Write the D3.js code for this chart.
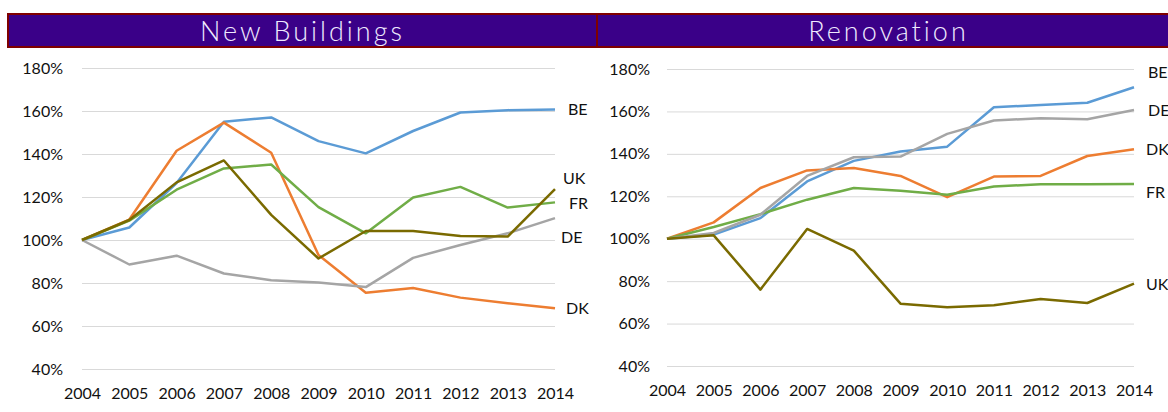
<!DOCTYPE html>
<html>
<head>
<meta charset="utf-8">
<script src="https://cdn.jsdelivr.net/npm/d3@7"></script>
<style>
  body { margin: 0; background: #fff; }
  svg { display: block; font-family: Lato, "Liberation Sans", sans-serif; }
</style>
</head>
<body>
<svg id="chart" width="1168" height="412"></svg>
<script>
const years = [2004, 2005, 2006, 2007, 2008, 2009, 2010, 2011, 2012, 2013, 2014];
const yTicks = [40, 60, 80, 100, 120, 140, 160, 180];
const countries = ["BE", "DK", "FR", "DE", "UK"];

// index 2004 = 100%
const newBE = [100, 105.8, 126.5, 155, 157, 146, 140.3, 150.7, 159.3, 160.4, 160.7];
const newDK = [100, 109.5, 141.5, 154.6, 140.6, 93, 75.5, 77.7, 73.2, 70.6, 68.3];
const newFR = [100, 109, 123.4, 133.3, 135.1, 115.3, 103.1, 119.8, 124.7, 115.1, 117.5];
const newDE = [100, 88.6, 92.7, 84.4, 81.3, 80.2, 78.1, 91.7, 97.7, 103.1, 110.2];
const newUK = [100, 109.3, 126.8, 137, 111.7, 91.4, 104.2, 104.2, 101.9, 101.6, 123.7];

const renoBE = [100, 101.9, 109.7, 127, 136.7, 141.1, 143.4, 162, 163, 164.1, 171.4];
const renoDK = [100, 107.7, 123.9, 132.2, 133.3, 129.6, 119.6, 129.3, 129.6, 139, 142.2];
const renoFR = [100, 105.5, 111.6, 118.4, 123.9, 122.6, 120.7, 124.6, 125.7, 125.7, 125.8];
const renoDE = [100, 102.7, 111.3, 129.6, 138.4, 138.7, 149.4, 155.7, 156.8, 156.3, 160.7];
const renoUK = [100, 101.6, 76, 104.6, 94.4, 69.4, 67.7, 68.6, 71.6, 69.7, 78.8];

const colors = { BE: "#5b9bd5", DK: "#ed7d31", FR: "#70ad47", DE: "#a5a5a5", UK: "#7a6a00" };

const panels = [
  {
    title: "New Buildings",
    series: { BE: newBE, DK: newDK, FR: newFR, DE: newDE, UK: newUK },
    head: [8, 597], x: [82, 555], y: [369, 68], tickX: 63,
    nudge: { BE: [13, 0], DK: [11, 0], FR: [14, 1], DE: [6, 19], UK: [8, -11] }
  },
  {
    title: "Renovation",
    series: { BE: renoBE, DK: renoDK, FR: renoFR, DE: renoDE, UK: renoUK },
    head: [597, 1180], x: [667, 1134], y: [366, 69], tickX: 650,
    nudge: { BE: [14, -15], DK: [12, 0], FR: [12, 8], DE: [14, 0], UK: [12, 1] }
  }
];

const svg = d3.select("#chart");

panels.forEach(p => {
  const g = svg.append("g");

  // header bar
  g.append("rect")
    .attr("x", p.head[0]).attr("y", 14)
    .attr("width", p.head[1] - p.head[0]).attr("height", 33)
    .attr("fill", "#3a0088")
    .attr("stroke", "#7f0000")
    .attr("stroke-width", 2);
  g.append("text")
    .attr("x", (p.head[0] + p.head[1]) / 2).attr("y", 41)
    .attr("text-anchor", "middle")
    .attr("fill", "#efeaff")
    .attr("font-size", 27)
    .attr("font-weight", 300)
    .attr("letter-spacing", 3)
    .text(p.title);

  const x = d3.scalePoint().domain(years).range(p.x);
  const y = d3.scaleLinear().domain([40, 180]).range(p.y);

  // gridlines + y labels
  const yAxis = g.append("g")
    .attr("transform", `translate(${p.x[0]},0)`)
    .call(d3.axisLeft(y).tickValues(yTicks)
      .tickSize(-(p.x[1] - p.x[0]))
      .tickPadding(p.x[0] - p.tickX)
      .tickFormat(d => d + "%"));
  yAxis.select(".domain").remove();
  yAxis.selectAll(".tick line").attr("stroke", "#d9d9d9").attr("stroke-width", 1);
  yAxis.selectAll(".tick text")
    .attr("fill", "#111").attr("font-size", 16)
    .attr("font-family", "Lato, 'Liberation Sans', sans-serif");

  // x labels
  const xAxis = g.append("g")
    .attr("transform", `translate(0,${p.y[0]})`)
    .call(d3.axisBottom(x).tickSize(0).tickPadding(19));
  xAxis.select(".domain").remove();
  xAxis.selectAll(".tick text")
    .attr("fill", "#111").attr("font-size", 16)
    .attr("font-family", "Lato, 'Liberation Sans', sans-serif");

  const line = d3.line()
    .x((d, i) => x(years[i]))
    .y(d => y(d));

  countries.forEach(c => {
    const vals = p.series[c];
    g.append("path")
      .datum(vals)
      .attr("fill", "none")
      .attr("stroke", colors[c])
      .attr("stroke-width", 2.5)
      .attr("stroke-linejoin", "round")
      .attr("d", line);

    const last = vals[vals.length - 1];
    g.append("text")
      .attr("x", x(years[years.length - 1]) + p.nudge[c][0])
      .attr("y", y(last) + p.nudge[c][1])
      .attr("dy", "0.35em")
      .attr("fill", "#111")
      .attr("font-size", 16)
      .text(c);
  });
});
</script>
</body>
</html>
